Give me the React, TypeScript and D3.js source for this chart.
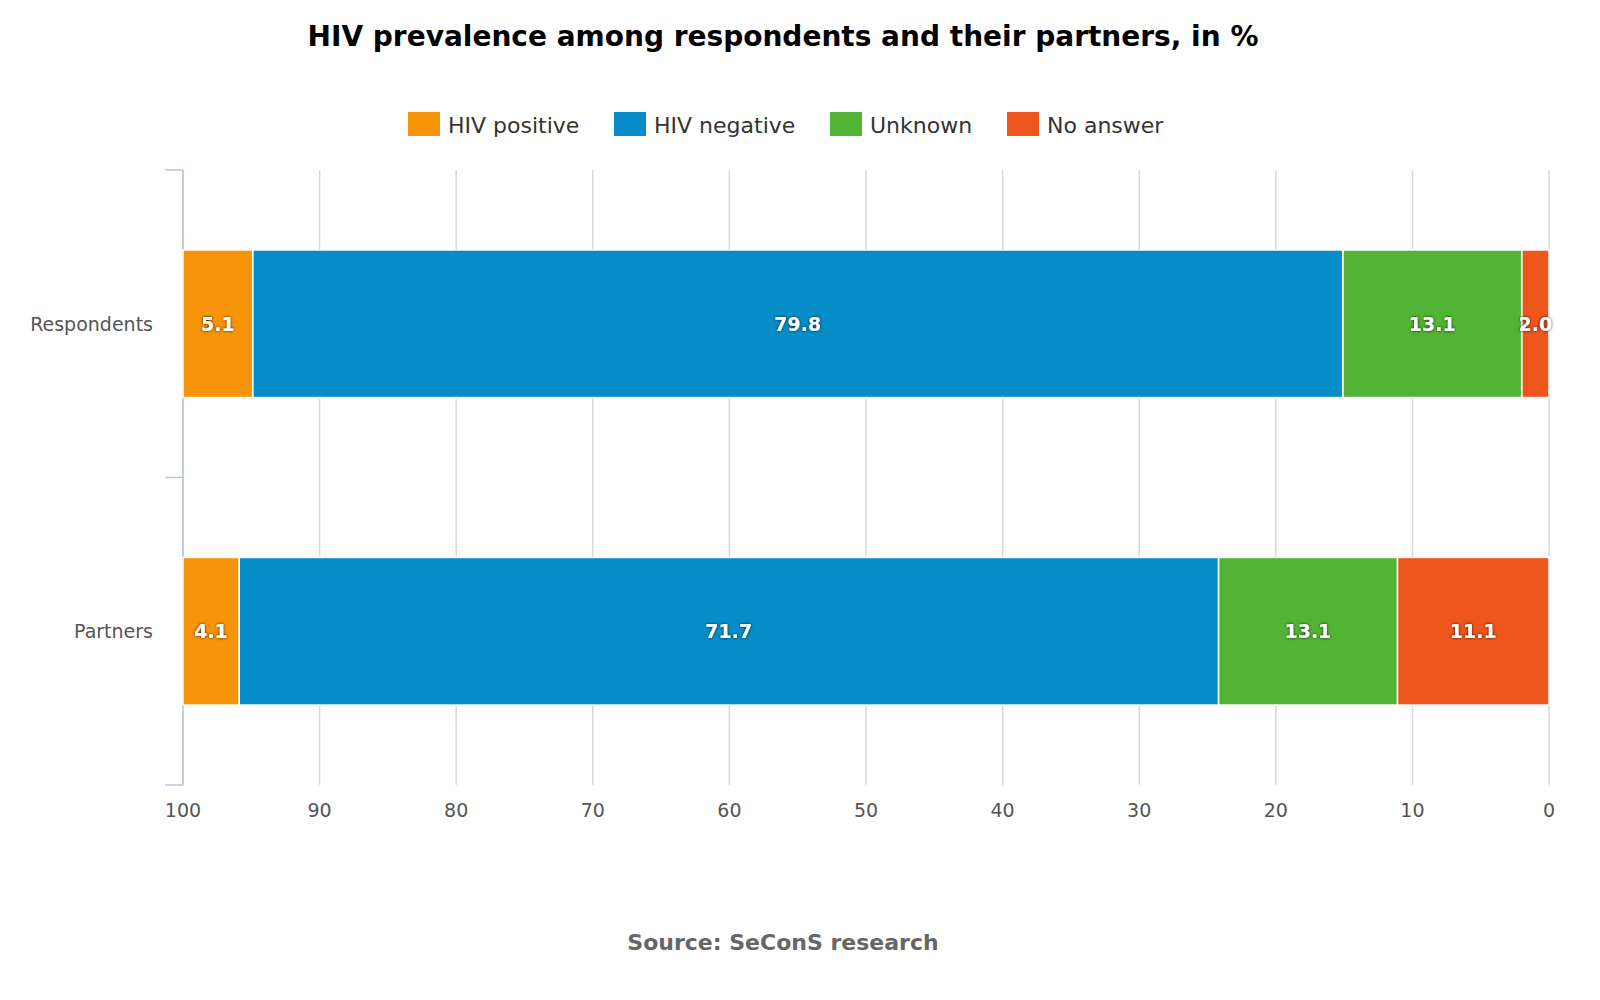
import React from "react";
import * as d3 from "d3";

const categories = ["Respondents", "Partners"];
const seriesNames = ["HIV positive", "HIV negative", "Unknown", "No answer"];
const seriesColors = ["#f7940a", "#068dc8", "#52b434", "#ee561d"];
const hivPositive = [5.1, 4.1];
const hivNegative = [79.8, 71.7];
const unknown = [13.1, 13.1];
const noAnswer = [2.0, 11.1];
const xTicks = [100, 90, 80, 70, 60, 50, 40, 30, 20, 10, 0];

const width = 1600;
const height = 1000;
const margin = { top: 170, right: 51, bottom: 215, left: 183 };

const App: React.FC = () => {
  const x = d3.scaleLinear().domain([100, 0]).range([margin.left, width - margin.right]);
  const y = d3
    .scaleBand()
    .domain(categories)
    .range([margin.top, height - margin.bottom])
    .paddingInner(0.52)
    .paddingOuter(0.26);

  const values = [hivPositive, hivNegative, unknown, noAnswer];
  // stack from 0 (right side) : no answer first, then unknown, negative, positive
  const bars: { cat: string; i: number; x0: number; x1: number; v: number }[] = [];
  categories.forEach((cat, ci) => {
    let acc = 0;
    for (let s = values.length - 1; s >= 0; s--) {
      const v = values[s][ci];
      bars.push({ cat, i: s, x0: acc, x1: acc + v, v });
      acc += v;
    }
  });

  const font = "DejaVu Sans, Verdana, sans-serif";
  const legendX = [408, 614, 830, 1007];

  return (
    <svg width={width} height={height} style={{ position: "absolute", left: 0, top: 0 }}>
      <defs>
        <filter id="sh" x="-20%" y="-20%" width="140%" height="140%">
          <feDropShadow dx="0" dy="0" stdDeviation="1.5" floodColor="#000" floodOpacity="0.8" />
        </filter>
      </defs>
      <rect width={width} height={height} fill="#fff" />
      <text x={783} y={46} textAnchor="middle" fontFamily={font} fontWeight="bold" fontSize={28}>
        HIV prevalence among respondents and their partners, in %
      </text>
      {seriesNames.map((n, i) => (
        <g key={n} transform={`translate(${legendX[i]},112)`}>
          <rect width={32} height={24} fill={seriesColors[i]} />
          <text x={40} y={21} fontFamily={font} fontSize={22} fill="#333">
            {n}
          </text>
        </g>
      ))}
      {xTicks.map((t) => (
        <g key={t}>
          <line x1={x(t)} x2={x(t)} y1={margin.top} y2={height - margin.bottom} stroke="#d8d8d8" strokeWidth={1.5} />
          <text x={x(t)} y={817} textAnchor="middle" fontFamily={font} fontSize={19} fill="#555">
            {t}
          </text>
        </g>
      ))}
      <line x1={183} x2={183} y1={margin.top} y2={height - margin.bottom} stroke="#b8c6d8" strokeWidth={1.5} />
      {[margin.top, (margin.top + height - margin.bottom) / 2, height - margin.bottom].map((ty) => (
        <line key={ty} x1={165} x2={183} y1={ty} y2={ty} stroke="#b8c6d8" strokeWidth={1.5} />
      ))}
      {categories.map((c) => (
        <text key={c} x={153} y={(y(c) as number) + y.bandwidth() / 2 + 7} textAnchor="end" fontFamily={font} fontSize={19} fill="#555">
          {c}
        </text>
      ))}
      {bars.map((b) => (
        <rect
          key={b.cat + b.i}
          x={x(b.x1)}
          width={x(b.x0) - x(b.x1)}
          y={y(b.cat)}
          height={y.bandwidth()}
          fill={seriesColors[b.i]}
          stroke="#fff"
          strokeWidth={1.5}
        />
      ))}
      {bars.map((b) => (
        <text
          key={"l" + b.cat + b.i}
          x={(x(b.x0) + x(b.x1)) / 2}
          y={(y(b.cat) as number) + y.bandwidth() / 2 + 7}
          textAnchor="middle"
          fontFamily={font}
          fontWeight="bold"
          fontSize={19}
          fill="#fff"
          filter="url(#sh)"
        >
          {b.v.toFixed(1)}
        </text>
      ))}
      <text x={783} y={950} textAnchor="middle" fontFamily={font} fontWeight="bold" fontSize={22} fill="#666">
        Source: SeConS research
      </text>
    </svg>
  );
};

export default App;
